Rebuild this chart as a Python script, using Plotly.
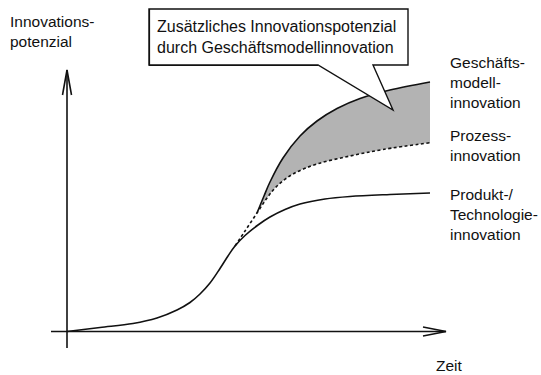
import plotly.graph_objects as go

# Figure size (pixels)
W, H = 541, 375

# --- Curves (Zeit 0..100, Innovationspotenzial 0..100) ---
# Produkt-/Technologieinnovation: classic S-curve
zeit_produkt = [0, 9.09, 18.18, 24.79, 30.3, 33.88, 36.64, 39.39, 42.15, 44.35, 46.28,
                49.04, 52.62, 55.92, 60.06, 64.19, 71.07, 77.96, 88.98, 100]
potenzial_produkt = [0, 1.6, 3.2, 5.4, 8.6, 11.6, 15.0, 19.4, 25.2, 30.2, 34.2,
                     38.4, 42.6, 45.8, 48.8, 51.0, 53.0, 54.0, 54.8, 55.4]

# Prozessinnovation: branches off the S-curve (dotted)
zeit_prozess = [46.28, 49.04, 52.34, 55.1, 57.85, 62.26, 68.87, 77.96, 87.05, 100]
potenzial_prozess = [34.2, 40.2, 47.4, 53.4, 58.2, 63.0, 67.0, 70.2, 72.8, 75.5]

# Geschäftsmodellinnovation: branches off the process curve
zeit_gm = [52.34, 54.27, 55.92, 59.5, 64.19, 68.87, 74.38, 80.72, 88.98, 100]
potenzial_gm = [47.4, 54.2, 59.8, 69.4, 78.2, 84.2, 89.2, 93.2, 96.6, 99.8]

# Texts
titel_y = "Innovations-<br>potenzial"
titel_x = "Zeit"
label_gm = "Geschäfts-<br>modell-<br>innovation"
label_prozess = "Prozess-<br>innovation"
label_produkt = "Produkt-/<br>Technologie-<br>innovation"
callout_text = "Zusätzliches Innovationspotenzial<br>durch Geschäftsmodellinnovation"

# Pixel layout of the drawing area: origin of the axes and scale per unit
X0_PX, Y0_PX = 67, 331.5
SX, SY = 3.63, 2.5

x_range = [(0 - X0_PX) / SX, (W - X0_PX) / SX]
y_range = [(Y0_PX - H) / SY, Y0_PX / SY]


def px(x):
    return x / W


def py(y):
    return 1 - y / H


FONT = "Liberation Sans, Arial, sans-serif"
INK = "#111111"
GREY = "#b3b3b3"

fig = go.Figure()

# Shaded area between process and business-model curves
fig.add_trace(go.Scatter(x=zeit_prozess[2:], y=potenzial_prozess[2:], mode="lines",
                         line=dict(width=0, shape="spline", color=GREY),
                         hoverinfo="skip", showlegend=False))
fig.add_trace(go.Scatter(x=zeit_gm, y=potenzial_gm, mode="lines",
                         line=dict(width=0, shape="spline", color=GREY),
                         fill="tonexty", fillcolor=GREY,
                         hoverinfo="skip", showlegend=False))

# Curves
fig.add_trace(go.Scatter(x=zeit_produkt, y=potenzial_produkt, mode="lines",
                         line=dict(width=1.6, color=INK, shape="spline"),
                         name="Produkt-/Technologieinnovation", showlegend=False))
fig.add_trace(go.Scatter(x=zeit_prozess, y=potenzial_prozess, mode="lines",
                         line=dict(width=1.6, color=INK, shape="spline", dash="3px,2.5px"),
                         name="Prozessinnovation", showlegend=False))
fig.add_trace(go.Scatter(x=zeit_gm, y=potenzial_gm, mode="lines",
                         line=dict(width=1.6, color=INK, shape="spline"),
                         name="Geschäftsmodellinnovation", showlegend=False))

shapes = []
axis_line = dict(color=INK, width=1.6)
# Axes with open arrowheads
shapes.append(dict(type="line", xref="paper", yref="paper",
                   x0=px(51), y0=py(Y0_PX), x1=px(446), y1=py(Y0_PX), line=axis_line))
shapes.append(dict(type="path", xref="paper", yref="paper",
                   path=f"M {px(423)} {py(Y0_PX - 4.5)} L {px(446)} {py(Y0_PX)} L {px(423)} {py(Y0_PX + 4.5)}",
                   line=axis_line))
shapes.append(dict(type="line", xref="paper", yref="paper",
                   x0=px(X0_PX), y0=py(348), x1=px(X0_PX), y1=py(70), line=axis_line))
shapes.append(dict(type="path", xref="paper", yref="paper",
                   path=f"M {px(X0_PX - 4.5)} {py(95)} L {px(X0_PX)} {py(70)} L {px(X0_PX + 4.5)} {py(95)}",
                   line=axis_line))

# Speech-bubble callout
bubble = [(149, 9), (408, 9), (408, 65), (373, 65), (393, 110), (318, 65), (149, 65)]
path = "M " + " L ".join(f"{px(a)} {py(b)}" for a, b in bubble) + " Z"
shapes.append(dict(type="path", xref="paper", yref="paper", path=path,
                   fillcolor="white", line=dict(color=INK, width=1.4), layer="above"))
# slightly heavier left and bottom edge of the bubble
shadow = [(149.5, 9), (149.5, 65.5), (318, 65.5)]
shapes.append(dict(type="path", xref="paper", yref="paper",
                   path="M " + " L ".join(f"{px(a)} {py(b)}" for a, b in shadow),
                   line=dict(color=INK, width=1.2), layer="above"))

annotations = []


def label(text, x, y, size=15.5, xanchor="left", yanchor="middle"):
    annotations.append(dict(text=text, x=px(x), y=py(y), xref="paper", yref="paper",
                            showarrow=False, xanchor=xanchor, yanchor=yanchor, align="left",
                            font=dict(family=FONT, size=size, color=INK)))


label(titel_y, 8, 31)
label(callout_text, 155, 37, size=16)
label(label_gm, 448, 82)
label(label_prozess, 448, 145)
label(label_produkt, 448, 214)
label(titel_x, 449, 365, xanchor="center")

fig.update_layout(
    width=W, height=H,
    margin=dict(l=0, r=0, t=0, b=0),
    paper_bgcolor="white", plot_bgcolor="white",
    xaxis=dict(range=x_range, visible=False, fixedrange=True),
    yaxis=dict(range=y_range, visible=False, fixedrange=True),
    shapes=shapes, annotations=annotations,
    showlegend=False,
)

fig.write_html("out.html")
